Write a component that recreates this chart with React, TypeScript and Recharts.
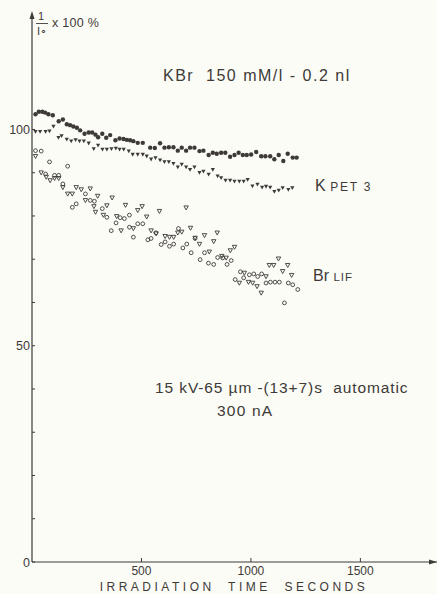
import React from 'react';
import { ScatterChart, Scatter, XAxis, YAxis } from 'recharts';

// K, filled circles (time s, I/I0 %)
const kDots = [
  { t: 16, v: 103.5 }, { t: 31, v: 104.1 }, { t: 47, v: 104.1 }, { t: 60, v: 103.9 }, { t: 75, v: 103.5 },
  { t: 95, v: 103.3 }, { t: 122, v: 101.9 }, { t: 141, v: 102.3 }, { t: 159, v: 101.2 }, { t: 174, v: 101.0 },
  { t: 189, v: 100.7 }, { t: 205, v: 100.4 }, { t: 220, v: 99.8 }, { t: 240, v: 99.0 }, { t: 259, v: 99.3 },
  { t: 275, v: 99.3 }, { t: 290, v: 98.8 }, { t: 302, v: 98.2 }, { t: 321, v: 99.0 }, { t: 339, v: 98.1 },
  { t: 357, v: 98.7 }, { t: 381, v: 97.5 }, { t: 400, v: 97.9 }, { t: 418, v: 97.8 }, { t: 433, v: 97.6 },
  { t: 448, v: 97.5 }, { t: 463, v: 97.3 }, { t: 483, v: 96.9 }, { t: 506, v: 96.9 }, { t: 540, v: 95.8 },
  { t: 561, v: 95.7 }, { t: 585, v: 96.8 }, { t: 605, v: 95.8 }, { t: 625, v: 95.9 }, { t: 646, v: 95.9 },
  { t: 666, v: 95.1 }, { t: 684, v: 95.8 }, { t: 704, v: 95.1 }, { t: 722, v: 95.8 }, { t: 742, v: 95.8 },
  { t: 765, v: 95.0 }, { t: 783, v: 95.1 }, { t: 807, v: 94.1 }, { t: 826, v: 94.6 }, { t: 844, v: 94.4 },
  { t: 864, v: 94.6 }, { t: 883, v: 94.6 }, { t: 905, v: 93.7 }, { t: 925, v: 94.1 }, { t: 944, v: 94.6 },
  { t: 963, v: 94.1 }, { t: 981, v: 94.1 }, { t: 1001, v: 94.2 }, { t: 1024, v: 94.8 }, { t: 1047, v: 93.8 },
  { t: 1066, v: 93.8 }, { t: 1088, v: 93.8 }, { t: 1107, v: 93.1 }, { t: 1127, v: 94.1 }, { t: 1148, v: 92.7 },
  { t: 1168, v: 94.4 }, { t: 1191, v: 93.5 }, { t: 1209, v: 93.5 },
];

// K, filled triangles
const kTriangles = [
  { t: 16, v: 99.5 }, { t: 37, v: 99.5 }, { t: 62, v: 99.5 }, { t: 80, v: 99.6 }, { t: 98, v: 100.7 },
  { t: 121, v: 98.1 }, { t: 135, v: 98.5 }, { t: 159, v: 97.7 }, { t: 179, v: 97.3 }, { t: 199, v: 97.6 },
  { t: 217, v: 97.3 }, { t: 237, v: 97.3 }, { t: 259, v: 96.8 }, { t: 282, v: 95.5 }, { t: 302, v: 96.3 },
  { t: 322, v: 95.4 }, { t: 342, v: 95.4 }, { t: 363, v: 95.5 }, { t: 383, v: 95.6 }, { t: 400, v: 95.4 },
  { t: 419, v: 95.4 }, { t: 442, v: 95.0 }, { t: 460, v: 94.2 }, { t: 483, v: 94.2 }, { t: 506, v: 94.2 },
  { t: 524, v: 93.8 }, { t: 544, v: 93.1 }, { t: 564, v: 93.4 }, { t: 585, v: 92.9 }, { t: 605, v: 92.5 },
  { t: 625, v: 92.5 }, { t: 646, v: 92.1 }, { t: 666, v: 91.3 }, { t: 684, v: 91.9 }, { t: 704, v: 91.3 },
  { t: 722, v: 90.7 }, { t: 742, v: 91.3 }, { t: 765, v: 90.0 }, { t: 783, v: 90.3 }, { t: 807, v: 89.6 },
  { t: 826, v: 90.7 }, { t: 848, v: 89.2 }, { t: 864, v: 88.8 }, { t: 884, v: 88.2 }, { t: 905, v: 88.2 },
  { t: 925, v: 88.0 }, { t: 947, v: 88.0 }, { t: 967, v: 88.0 }, { t: 985, v: 88.4 }, { t: 1007, v: 86.9 },
  { t: 1030, v: 87.3 }, { t: 1051, v: 86.6 }, { t: 1069, v: 86.8 }, { t: 1088, v: 86.6 }, { t: 1107, v: 85.6 },
  { t: 1127, v: 85.9 }, { t: 1145, v: 86.5 }, { t: 1171, v: 86.1 }, { t: 1189, v: 86.5 },
];

// Br, open circles
const brCircles = [
  { t: 16, v: 95.1 }, { t: 42, v: 95.0 }, { t: 80, v: 92.5 }, { t: 62, v: 89.7 }, { t: 103, v: 89.4 },
  { t: 122, v: 89.4 }, { t: 141, v: 87.4 }, { t: 163, v: 91.5 }, { t: 184, v: 82.0 }, { t: 202, v: 82.8 },
  { t: 244, v: 85.1 }, { t: 266, v: 83.6 }, { t: 285, v: 83.4 }, { t: 321, v: 81.7 }, { t: 342, v: 79.7 },
  { t: 362, v: 76.6 }, { t: 384, v: 78.4 }, { t: 403, v: 79.6 }, { t: 422, v: 79.4 }, { t: 445, v: 80.2 },
  { t: 445, v: 77.4 }, { t: 463, v: 75.1 }, { t: 483, v: 78.2 }, { t: 506, v: 78.2 }, { t: 529, v: 74.5 },
  { t: 544, v: 74.8 }, { t: 566, v: 76.1 }, { t: 590, v: 73.4 }, { t: 608, v: 74.0 }, { t: 628, v: 73.0 },
  { t: 647, v: 73.5 }, { t: 669, v: 77.1 }, { t: 689, v: 72.6 }, { t: 707, v: 73.5 }, { t: 727, v: 71.5 },
  { t: 745, v: 74.8 }, { t: 768, v: 69.9 }, { t: 788, v: 71.5 }, { t: 806, v: 69.1 }, { t: 830, v: 68.8 },
  { t: 848, v: 70.4 }, { t: 871, v: 70.3 }, { t: 891, v: 68.8 }, { t: 910, v: 69.7 }, { t: 928, v: 65.3 },
  { t: 952, v: 67.1 }, { t: 967, v: 65.7 }, { t: 993, v: 66.4 }, { t: 1013, v: 66.6 }, { t: 1031, v: 66.0 },
  { t: 1049, v: 66.6 }, { t: 1069, v: 64.5 }, { t: 1089, v: 64.7 }, { t: 1110, v: 64.7 }, { t: 1130, v: 64.7 },
  { t: 1153, v: 59.9 }, { t: 1171, v: 64.5 }, { t: 1191, v: 64.1 }, { t: 1214, v: 63.0 },
];

// Br, open triangles
const brTriangles = [
  { t: 16, v: 93.8 }, { t: 42, v: 90.0 }, { t: 65, v: 89.0 }, { t: 83, v: 88.2 }, { t: 103, v: 88.7 },
  { t: 122, v: 88.7 }, { t: 141, v: 86.6 }, { t: 163, v: 85.1 }, { t: 184, v: 85.1 }, { t: 202, v: 86.6 },
  { t: 225, v: 86.1 }, { t: 244, v: 83.6 }, { t: 266, v: 86.3 }, { t: 283, v: 82.2 }, { t: 290, v: 80.9 },
  { t: 300, v: 84.6 }, { t: 326, v: 80.2 }, { t: 342, v: 82.4 }, { t: 366, v: 84.2 }, { t: 387, v: 79.9 },
  { t: 407, v: 76.6 }, { t: 427, v: 82.5 }, { t: 463, v: 77.1 }, { t: 483, v: 81.3 }, { t: 503, v: 82.2 },
  { t: 524, v: 79.8 }, { t: 544, v: 76.6 }, { t: 567, v: 75.9 }, { t: 582, v: 81.1 }, { t: 608, v: 75.3 },
  { t: 628, v: 75.1 }, { t: 647, v: 75.1 }, { t: 666, v: 76.1 }, { t: 684, v: 76.3 }, { t: 704, v: 81.9 },
  { t: 724, v: 77.2 }, { t: 745, v: 74.9 }, { t: 765, v: 73.5 }, { t: 788, v: 75.5 }, { t: 810, v: 71.7 },
  { t: 830, v: 74.1 }, { t: 846, v: 76.1 }, { t: 867, v: 70.7 }, { t: 887, v: 70.3 }, { t: 906, v: 72.0 },
  { t: 925, v: 72.8 }, { t: 947, v: 64.5 }, { t: 970, v: 66.8 }, { t: 989, v: 64.7 }, { t: 1008, v: 64.5 },
  { t: 1028, v: 63.7 }, { t: 1047, v: 62.2 }, { t: 1069, v: 66.0 }, { t: 1084, v: 68.6 }, { t: 1104, v: 68.6 },
  { t: 1126, v: 70.1 }, { t: 1145, v: 67.2 }, { t: 1168, v: 68.6 }, { t: 1186, v: 66.3 },
];

const yTicks = [0, 10, 20, 30, 40, 50, 60, 70, 80, 90, 100];
const yLabelled = [0, 50, 100];
const xTicks = [500, 1000, 1500];

const ink = '#3d3a38';
const font = '"Liberation Sans", Arial, sans-serif';

const FilledDot = (p: any) => <circle cx={p.cx} cy={p.cy} r={2.2} fill={ink} />;
const OpenDot = (p: any) => <circle cx={p.cx} cy={p.cy} r={1.9} fill="none" stroke={ink} strokeWidth={0.9} />;
const FilledTri = (p: any) => (
  <polygon points={`${p.cx - 2.1},${p.cy - 1.7} ${p.cx + 2.1},${p.cy - 1.7} ${p.cx},${p.cy + 2.1}`} fill={ink} />
);
const OpenTri = (p: any) => (
  <polygon
    points={`${p.cx - 2.2},${p.cy - 1.8} ${p.cx + 2.2},${p.cy - 1.8} ${p.cx},${p.cy + 2.2}`}
    fill="none"
    stroke={ink}
    strokeWidth={0.9}
  />
);

const YTick = ({ x, y, payload }: any) => (
  <g>
    <line x1={x} x2={x + 3} y1={y} y2={y} stroke={ink} strokeWidth={1} />
    {yLabelled.includes(payload.value) && (
      <text x={x - 2} y={y + 4.5} textAnchor="end" fontSize={12.5} fill={ink} fontFamily={font}>
        {payload.value}
      </text>
    )}
  </g>
);

const XTick = ({ x, y, payload }: any) => (
  <g>
    <line x1={x} x2={x} y1={y} y2={y - 4} stroke={ink} strokeWidth={1} />
    <text x={x} y={y + 13} textAnchor="middle" fontSize={12} fill={ink} fontFamily={font}>
      {payload.value}
    </text>
  </g>
);

const pre = { whiteSpace: 'pre' as const };

export default function App() {
  return (
    <div style={{ position: 'absolute', left: 0, top: 0, width: 437, height: 594, background: '#fcfcf6' }}>
      <ScatterChart width={437} height={594} margin={{ top: 17, right: 0, bottom: 0, left: 0 }}>
        <XAxis
          type="number"
          dataKey="t"
          domain={[0, 1850]}
          ticks={xTicks}
          tick={<XTick />}
          tickSize={0}
          tickMargin={0}
          height={32}
          axisLine={{ stroke: ink, strokeWidth: 1.2 }}
          allowDataOverflow
        />
        <YAxis
          type="number"
          dataKey="v"
          domain={[0, 126]}
          ticks={yTicks}
          interval={0}
          tick={<YTick />}
          tickSize={0}
          tickMargin={0}
          width={32}
          axisLine={{ stroke: ink, strokeWidth: 1.2 }}
          allowDataOverflow
        />
        <Scatter data={kDots} shape={<FilledDot />} isAnimationActive={false} />
        <Scatter data={kTriangles} shape={<FilledTri />} isAnimationActive={false} />
        <Scatter data={brCircles} shape={<OpenDot />} isAnimationActive={false} />
        <Scatter data={brTriangles} shape={<OpenTri />} isAnimationActive={false} />
      </ScatterChart>
      <svg
        width={437}
        height={594}
        style={{ position: 'absolute', left: 0, top: 0, pointerEvents: 'none' }}
        fontFamily={font}
        fill={ink}
      >
        {/* axis arrow heads */}
        <polygon points="32,11 29.5,19 34.5,19" fill={ink} />
        <polygon points="437,562 429,559.5 429,564.5" fill={ink} />
        {/* y axis title */}
        <text x={41} y={20} fontSize={11} textAnchor="middle">1</text>
        <line x1={36} x2={48} y1={23.5} y2={23.5} stroke={ink} strokeWidth={0.9} />
        <text x={42} y={35} fontSize={11} textAnchor="middle">I∘</text>
        <text x={52} y={27} fontSize={12.5} letterSpacing={0.3}>x 100 %</text>
        {/* annotations */}
        <text x={163} y={81} fontSize={16} letterSpacing={1.5} style={pre}>KBr  150 mM/l - 0.2 nl</text>
        <text x={315} y={191} fontSize={16}>K <tspan fontSize={12} letterSpacing={1.8}>PET 3</tspan></text>
        <text x={313} y={281} fontSize={16}>Br <tspan fontSize={11.5} letterSpacing={1}>LIF</tspan></text>
        <text x={155} y={393} fontSize={15.5} letterSpacing={0.9} style={pre}>15 kV-65 µm -(13+7)s  automatic</text>
        <text x={217} y={416} fontSize={15.5} letterSpacing={1.2}>300 nA</text>
        <text x={234} y={591} fontSize={12} textAnchor="middle" letterSpacing={3.5} style={pre}>
          IRRADIATION  TIME  SECONDS
        </text>
      </svg>
    </div>
  );
}
